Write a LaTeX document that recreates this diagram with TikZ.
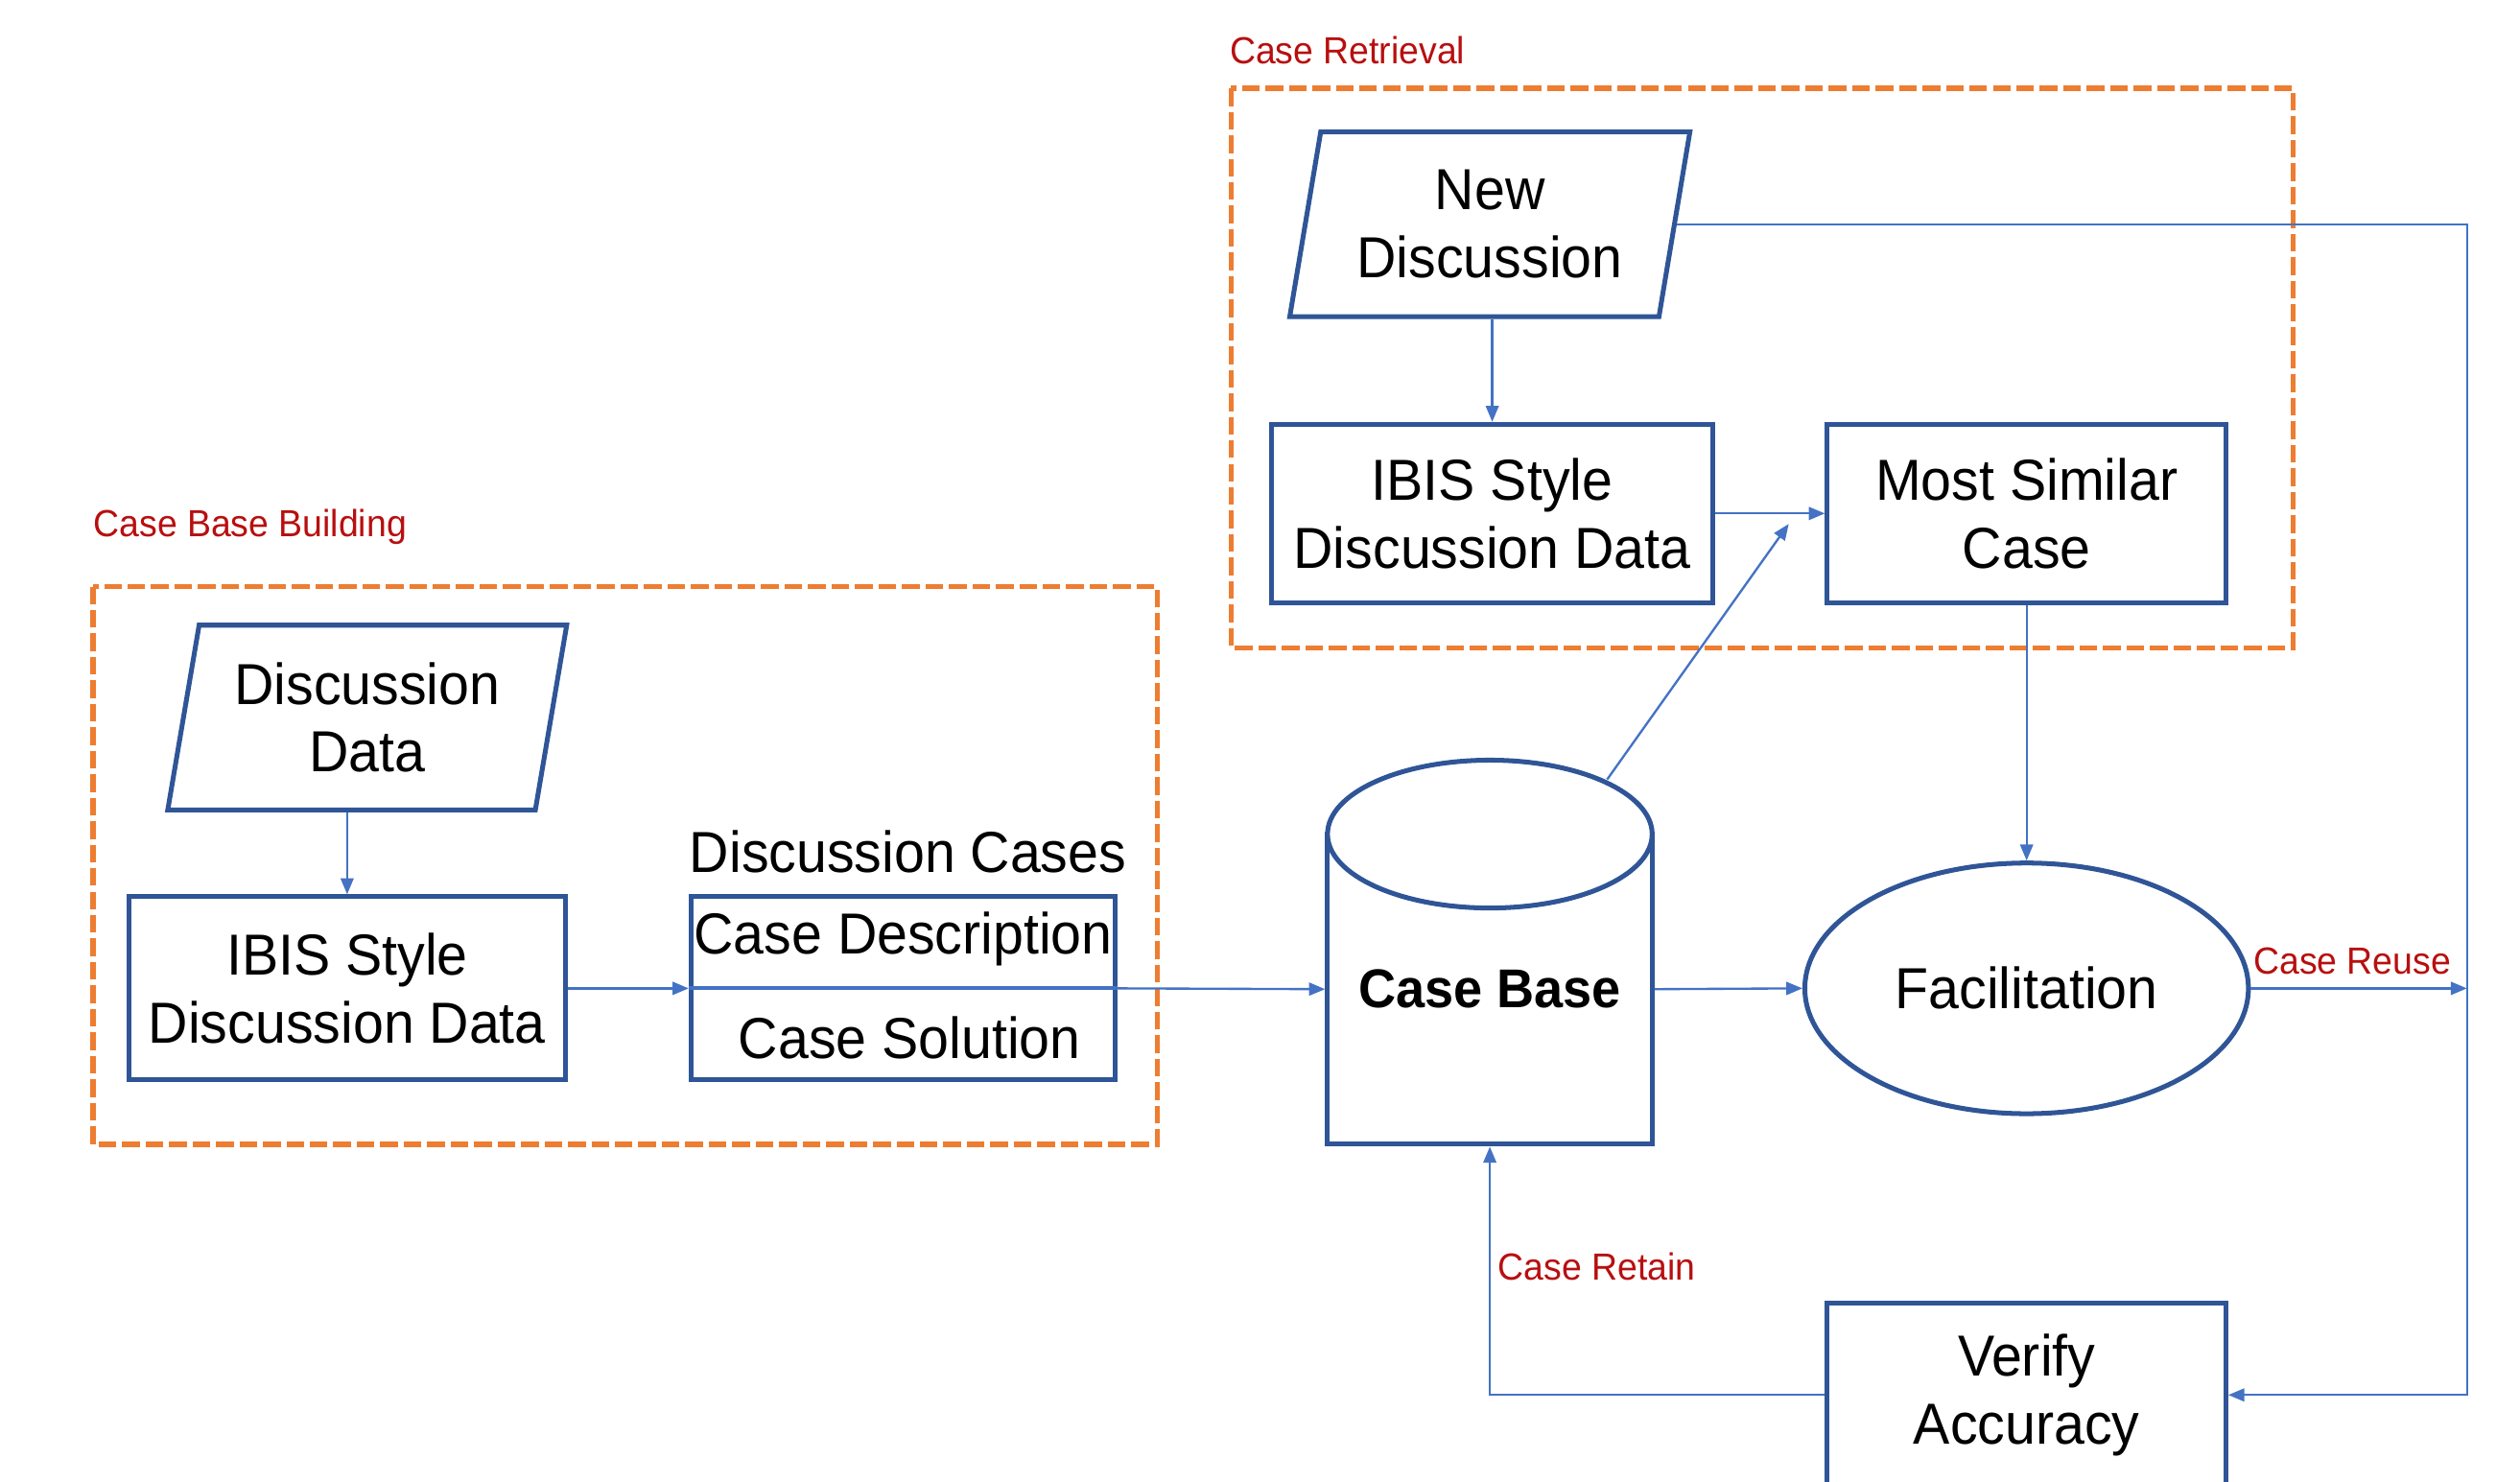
\documentclass[tikz,border=0pt]{standalone}
\usepackage{fontspec}
\setmainfont[FakeStretch=0.95]{Liberation Sans}
\usetikzlibrary{shapes.geometric,arrows.meta,calc}
\definecolor{bord}{HTML}{2F5597}
\definecolor{conn}{HTML}{4472C4}
\definecolor{orng}{HTML}{ED7D31}
\definecolor{lbl}{HTML}{B80F0F}
\newcommand{\bigf}{\fontsize{36}{42}\selectfont}
\newcommand{\smallf}{\fontsize{23.5}{28}\selectfont}
\begin{document}
\begin{tikzpicture}[x=1pt,y=-1pt,
 box/.style={draw=bord,line width=3pt,fill=white,align=center,font=\bigf,inner sep=0pt},
 para/.style={box,trapezium,trapezium left angle=77.3,trapezium right angle=102.7,trapezium stretches=true,minimum width=249pt,minimum height=115pt},
 flow/.style={draw=conn,line width=1.4pt,-{Triangle[length=10pt,width=8pt]}},
 divline/.style={draw=conn,line width=2.5pt},
 group/.style={draw=orng,line width=3.2pt,dash pattern=on 11pt off 3.6pt},
 grouplabel/.style={text=lbl,font=\smallf,anchor=west,inner sep=0pt},
 txt/.style={font=\bigf,align=center,inner sep=0pt}]
\useasboundingbox (0,0) rectangle (1568,922);
% groups
\draw[group] (58,365) rectangle (720,712);
\draw[group] (766,55) rectangle (1427,403);
\node[grouplabel] (lbb) at (58,328) {Case Base Building};
\node[grouplabel] (lcr) at (765,31) {Case Retrieval};
% nodes
\node[para] (dd) at (228.5,446.5) {Discussion\\Data};
\node[box,minimum width=272pt,minimum height=114pt] (ibis1) at (216,615) {IBIS Style\\Discussion Data};
\node[txt] (dcl) at (565,530) {Discussion Cases};
\node[box,minimum width=264pt,minimum height=114pt] (cases) at (562,615) {};
\node[txt] (cdesc) at (562,584) {Case Description};
\node[txt] (csol) at (566,646) {Case Solution};
\node[para] (nd) at (927,139.5) {New\\Discussion};
\node[box,minimum width=275pt,minimum height=111pt] (ibis2) at (928.5,319.5) {IBIS Style\\Discussion Data};
\node[box,minimum width=248pt,minimum height=111pt] (msc) at (1261,319.5) {Most Similar\\Case};
\node[box,minimum width=202pt,minimum height=193pt,font=\fontsize{34}{40}\selectfont\bfseries] (cb) at (927,615.5) {Case Base};
\draw[draw=bord,line width=3pt,fill=white] (927,519) ellipse [x radius=101pt, y radius=46pt];
\node[box,ellipse,minimum width=276pt,minimum height=156pt] (fac) at (1261,615) {Facilitation};
\node[box,minimum width=248pt,minimum height=114pt] (va) at (1261,868) {Verify\\Accuracy};
% coordinates
\coordinate (ctop) at (1000,485);
\coordinate (cmid) at (1113,326);
\coordinate (rc) at (1535,868);
% connectors
\draw[flow] (dd.south -| ibis1.north) -- (ibis1.north);
\draw[flow] (ibis1.east) -- (cases.west);
\draw[divline] (cases.west) -- (cases.east);
\draw[flow] (cases.east) -- (cb.west);
\draw[flow] (nd.south -| ibis2.north) -- (ibis2.north);
\draw[flow] (ibis2.east) -- (msc.west);
\draw[flow] (ctop) -- (cmid);
\draw[flow] (msc.south) -- (fac.north);
\draw[flow] (cb.east) -- (fac.west);
\draw[flow] (fac.east) -- (fac.east -| rc);
\draw[flow] ($(nd.top right corner)!0.5!(nd.bottom right corner)$) -| (rc) -- (va.east);
\draw[flow] (va.west) -| (cb.south);
% edge labels
\node[grouplabel] (lru) at (1402,598) {Case Reuse};
\node[grouplabel] (lre) at (932,788) {Case Retain};
\end{tikzpicture}
\end{document}
